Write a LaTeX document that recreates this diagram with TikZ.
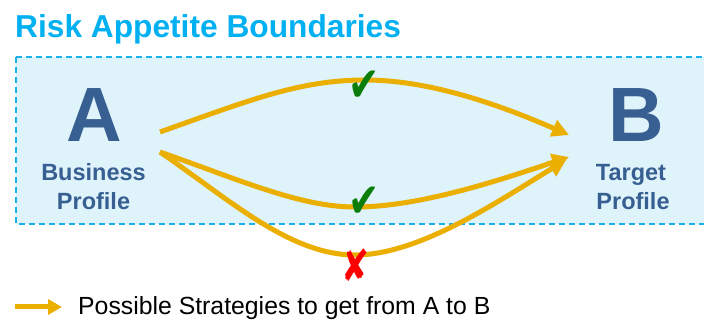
\documentclass[tikz,border=0pt]{standalone}
\usepackage{fontspec}
\setmainfont{Liberation Sans}
\newfontfamily\symfont{DejaVu Sans}
\usetikzlibrary{arrows.meta}
\definecolor{strat}{HTML}{EAAF00}
\definecolor{proftext}{HTML}{375F92}
\definecolor{titleblue}{HTML}{00B0F0}
\definecolor{boxfill}{HTML}{DEF3FA}
\definecolor{boxline}{HTML}{1AB0EC}
\definecolor{okgreen}{HTML}{0B7D0B}
\definecolor{badred}{HTML}{FF0000}
\tikzset{
  x=1pt, y=-1pt,
  strategy/.style={draw=strat, line width=5pt, -{Triangle[length=17pt,width=17pt]}},
  bigletter/.style={text=proftext, font=\fontsize{77}{80}\selectfont\bfseries, anchor=base, inner sep=0pt},
  proflabel/.style={text=proftext, font=\fontsize{23.5}{28}\selectfont\bfseries, anchor=base, inner sep=0pt},
  checkmark/.style={text=okgreen, font=\symfont\fontsize{44}{46}\selectfont, inner sep=0pt},
  crossmark/.style={text=badred, font=\symfont\fontsize{42}{46}\selectfont, inner sep=0pt},
}
\begin{document}
\begin{tikzpicture}
\useasboundingbox (0,0) rectangle (704,320);
\begin{scope}
\clip (0,0) rectangle (704,320);
\draw[boxline, fill=boxfill, line width=2pt, dash pattern=on 6pt off 4pt] (16,57) rectangle (712,224);
\end{scope}
\node[anchor=base west, inner sep=0pt, text=titleblue, font=\fontsize{31.7}{38}\selectfont\bfseries] (title) at (15,38) {Risk Appetite Boundaries};

\node[bigletter] (A) at (94,142) {A};
\node[proflabel] (Abus) at (93.5,181) {Business};
\node[proflabel] (Aprof) at (93.5,210) {Profile};
\node[bigletter] (B) at (636,142) {B};
\node[proflabel] (Btar) at (631,181) {Target};
\node[proflabel] (Bprof) at (633,210) {Profile};

\coordinate (a1) at (160,132);
\coordinate (a2) at (160,152);
\coordinate (b1) at (569,135);
\coordinate (b2) at (569,157);
\coordinate (b3) at (566,160);

\draw[strategy] (a1) .. controls (250,100) and (300,80) .. (365,80) .. controls (430,80) and (500,105) .. (b1);
\draw[strategy] (a2) .. controls (240,180) and (300,207) .. (355,207) .. controls (420,207) and (500,180) .. (b2);
\draw[strategy] (a2) .. controls (230,200) and (290,255) .. (355,255) .. controls (420,255) and (500,200) .. (b3);

\node[checkmark] (ok1) at (364,86) {\scalebox{0.85}[1.1]{✔}};
\node[checkmark] (ok2) at (364,202) {\scalebox{0.85}[1.1]{✔}};
\node[crossmark] (bad) at (356,265) {\scalebox{0.8}[1.05]{✘}};

\coordinate (l1) at (15,307);
\coordinate (l2) at (62,307);
\draw[draw=strat, line width=5pt, -{Triangle[length=14pt,width=15pt]}] (l1) -- (l2);
\node[anchor=base west, inner sep=0pt, font=\fontsize{24.8}{30}\selectfont] (legend) at (78,315) {Possible Strategies to get from A to B};
\end{tikzpicture}
\end{document}
